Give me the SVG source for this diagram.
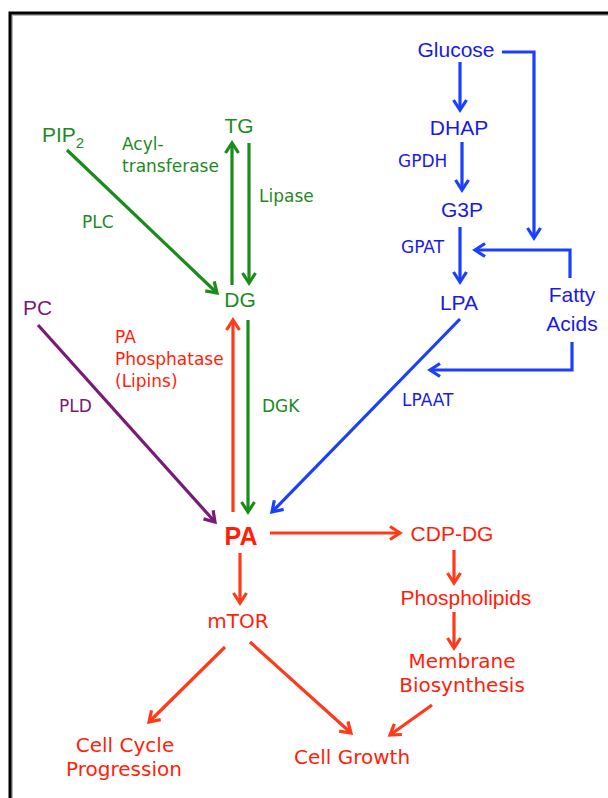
<svg xmlns="http://www.w3.org/2000/svg" width="608" height="798" viewBox="0 0 608 798">
<style>
.bg{fill:#ffffff}
.frame{fill:none;stroke:#000;stroke-width:3}
.shadow{fill:none;stroke:#b8b8b8;stroke-width:2}
.node{font-family:"Liberation Sans","Open Sans",Arial,sans-serif;font-size:21px}
.lab{font-family:"DejaVu Sans","Noto Sans",sans-serif;font-size:17px}
.big{font-family:"DejaVu Sans","Noto Sans",sans-serif;font-size:20px}
.blue{fill:#1a1ae8}
.green{fill:#1e8a1e}
.red{fill:#ff1e0a}
.purple{fill:#7a1a78}
.ln{fill:none;stroke-width:3.2}
.lb{stroke:#1a40ff}
.lg{stroke:#1a8c1a}
.lr{stroke:#ff3a1a}
.lp{stroke:#7a1a78}
</style>
<defs>
<marker id="ab" markerUnits="userSpaceOnUse" markerWidth="18" markerHeight="18" viewBox="0 0 18 18" refX="14" refY="9" orient="auto"><path d="M4,2.5 L14,9 L4,15.5" fill="none" stroke="#1a40ff" stroke-width="3.2"/></marker>
<marker id="ag" markerUnits="userSpaceOnUse" markerWidth="18" markerHeight="18" viewBox="0 0 18 18" refX="14" refY="9" orient="auto"><path d="M4,2.5 L14,9 L4,15.5" fill="none" stroke="#1a8c1a" stroke-width="3.2"/></marker>
<marker id="ar" markerUnits="userSpaceOnUse" markerWidth="18" markerHeight="18" viewBox="0 0 18 18" refX="14" refY="9" orient="auto"><path d="M4,2.5 L14,9 L4,15.5" fill="none" stroke="#ff3a1a" stroke-width="3.2"/></marker>
<marker id="ap" markerUnits="userSpaceOnUse" markerWidth="18" markerHeight="18" viewBox="0 0 18 18" refX="14" refY="9" orient="auto"><path d="M4,2.5 L14,9 L4,15.5" fill="none" stroke="#7a1a78" stroke-width="3.2"/></marker>
</defs>
<rect class="bg" x="0" y="0" width="608" height="798"/>
<rect class="shadow" x="12" y="15" width="620" height="800"/>
<rect class="frame" x="10" y="13" width="620" height="800"/>

<g id="connectors">
<line class="ln lb" x1="460" y1="62" x2="460" y2="110" marker-end="url(#ab)"/>
<line class="ln lb" x1="462" y1="142" x2="462" y2="190" marker-end="url(#ab)"/>
<line class="ln lb" x1="460" y1="227" x2="460" y2="282" marker-end="url(#ab)"/>
<path class="ln lb" d="M502,52 H534 V238" marker-end="url(#ab)"/>
<path class="ln lb" d="M570,278 V250 H475" marker-end="url(#ab)"/>
<path class="ln lb" d="M572,342 V370 H430" marker-end="url(#ab)"/>
<line class="ln lb" x1="460" y1="319" x2="272" y2="512" marker-end="url(#ab)"/>
<line class="ln lg" x1="67" y1="150" x2="217" y2="293" marker-end="url(#ag)"/>
<line class="ln lg" x1="232" y1="285" x2="232" y2="143" marker-end="url(#ag)"/>
<line class="ln lg" x1="249" y1="143" x2="249" y2="283" marker-end="url(#ag)"/>
<line class="ln lg" x1="248" y1="320" x2="248" y2="512" marker-end="url(#ag)"/>
<line class="ln lr" x1="233" y1="512" x2="233" y2="320" marker-end="url(#ar)"/>
<line class="ln lp" x1="38" y1="325" x2="215" y2="522" marker-end="url(#ap)"/>
<line class="ln lr" x1="270" y1="533" x2="400" y2="533" marker-end="url(#ar)"/>
<line class="ln lr" x1="240" y1="553" x2="240" y2="603" marker-end="url(#ar)"/>
<line class="ln lr" x1="454" y1="550" x2="454" y2="583" marker-end="url(#ar)"/>
<line class="ln lr" x1="454" y1="612" x2="454" y2="648" marker-end="url(#ar)"/>
<line class="ln lr" x1="225" y1="647" x2="149" y2="722" marker-end="url(#ar)"/>
<line class="ln lr" x1="250" y1="642" x2="351" y2="733" marker-end="url(#ar)"/>
<line class="ln lr" x1="432" y1="705" x2="390" y2="735" marker-end="url(#ar)"/>
</g>

<g id="glucose"><text class="node blue" x="456" y="57" text-anchor="middle">Glucose</text></g>
<g id="dhap"><text class="node blue" x="459" y="135" text-anchor="middle">DHAP</text></g>
<g id="gpdh"><text class="lab blue" x="398" y="167">GPDH</text></g>
<g id="g3p"><text class="node blue" x="462" y="217" text-anchor="middle">G3P</text></g>
<g id="gpat"><text class="lab blue" x="401" y="253">GPAT</text></g>
<g id="lpa"><text class="node blue" x="459" y="310" text-anchor="middle">LPA</text></g>
<g id="fatty-acids"><text class="node blue" x="572" y="302" text-anchor="middle">Fatty</text><text class="node blue" x="572" y="331" text-anchor="middle">Acids</text></g>
<g id="lpaat"><text class="lab blue" x="402" y="406">LPAAT</text></g>

<g id="pip2"><text class="node green" x="42" y="142" font-size="20">PIP<tspan font-size="15" dy="6">2</tspan></text></g>
<g id="tg"><text class="node green" x="239" y="133" text-anchor="middle">TG</text></g>
<g id="acyltransferase"><text class="lab green" x="122" y="150">Acyl-</text><text class="lab green" x="122" y="172">transferase</text></g>
<g id="lipase"><text class="lab green" x="259" y="202">Lipase</text></g>
<g id="plc"><text class="lab green" x="82" y="228">PLC</text></g>
<g id="dg"><text class="node green" x="240" y="307" text-anchor="middle">DG</text></g>
<g id="dgk"><text class="lab green" x="262" y="412">DGK</text></g>

<g id="pc"><text class="node purple" x="23" y="315">PC</text></g>
<g id="pld"><text class="lab purple" x="59" y="412">PLD</text></g>

<g id="pa-phosphatase"><text class="lab red" x="115" y="343">PA</text><text class="lab red" x="115" y="365">Phosphatase</text><text class="lab red" x="115" y="387">(Lipins)</text></g>
<g id="pa"><text class="red" x="241" y="545" text-anchor="middle" font-family="Liberation Sans, Arial, sans-serif" font-size="25" font-weight="bold">PA</text></g>
<g id="cdp-dg"><text class="node red" x="452" y="541" text-anchor="middle">CDP-DG</text></g>
<g id="phospholipids"><text class="node red" x="466" y="605" text-anchor="middle" font-size="22">Phospholipids</text></g>
<g id="membrane-biosynthesis"><text class="big red" x="462" y="668" text-anchor="middle">Membrane</text><text class="big red" x="462" y="692" text-anchor="middle">Biosynthesis</text></g>
<g id="mtor"><text class="big red" x="238" y="628" text-anchor="middle">mTOR</text></g>
<g id="cell-cycle"><text class="big red" x="125" y="752" text-anchor="middle">Cell Cycle</text><text class="big red" x="124" y="776" text-anchor="middle">Progression</text></g>
<g id="cell-growth"><text class="big red" x="352" y="764" text-anchor="middle" font-size="23">Cell Growth</text></g>
</svg>
